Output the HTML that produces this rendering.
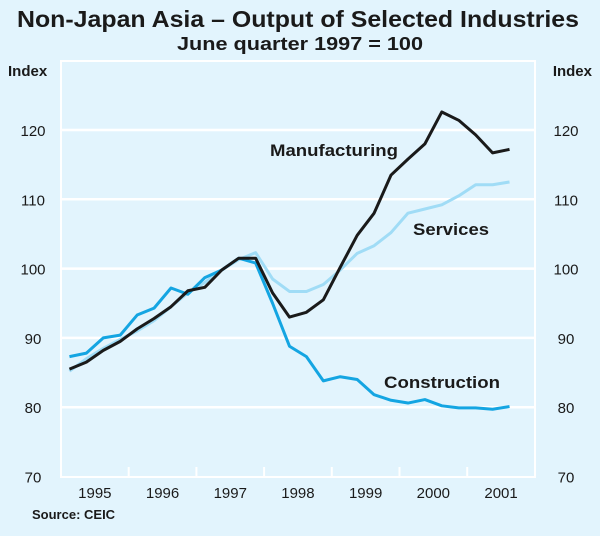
<!DOCTYPE html>
<html><head><meta charset="utf-8"><style>
body{margin:0;background:#e2f4fd;font-family:"Liberation Sans",Arial,sans-serif}
svg text{font-family:"Liberation Sans",Arial,sans-serif}
</style></head><body>
<svg id="c" width="600" height="531" xmlns="http://www.w3.org/2000/svg">
<rect x="0" y="0" width="600" height="531" fill="#e2f4fd"/>
<text x="298" y="27" text-anchor="middle" font-size="23" font-weight="bold" fill="#1a1a1a" textLength="562" lengthAdjust="spacingAndGlyphs">Non-Japan Asia – Output of Selected Industries</text>
<text x="300" y="50" text-anchor="middle" font-size="18" font-weight="bold" fill="#1a1a1a" textLength="246" lengthAdjust="spacingAndGlyphs">June quarter 1997 = 100</text>
<g id="grid"></g>
<rect x="61" y="61" width="474" height="416" fill="none" stroke="#fff" stroke-width="2"/>
<text x="8" y="76" font-size="15" font-weight="bold" fill="#1a1a1a">Index</text>
<text x="592" y="76" text-anchor="end" font-size="15" font-weight="bold" fill="#1a1a1a">Index</text>
<g id="ticks"></g>
<g id="lines"></g>
<text x="270" y="156" font-size="17" font-weight="bold" fill="#1a1a1a" textLength="128" lengthAdjust="spacingAndGlyphs">Manufacturing</text>
<text x="413" y="235" font-size="17" font-weight="bold" fill="#1a1a1a" textLength="76" lengthAdjust="spacingAndGlyphs">Services</text>
<text x="384" y="388" font-size="17" font-weight="bold" fill="#1a1a1a" textLength="116" lengthAdjust="spacingAndGlyphs">Construction</text>
<text x="32" y="519" font-size="13" font-weight="bold" fill="#1a1a1a">Source: CEIC</text>
</svg>
<script>
const yTicks=[70,80,90,100,110,120];
const years=['1995','1996','1997','1998','1999','2000','2001'];
const manufacturing=[85.5,86.5,88.2,89.5,91.3,92.8,94.5,96.8,97.3,99.8,101.5,101.5,96.5,93.0,93.7,95.5,100.2,104.8,108.0,113.5,115.8,118.0,122.6,121.4,119.3,116.7,117.2];
const services=[85.2,87,88.5,89.8,91,92.5,94.5,96.5,98,99.8,101.3,102.3,98.5,96.7,96.7,97.7,99.8,102.2,103.3,105.2,108,108.6,109.2,110.5,112.1,112.1,112.5];
const construction=[87.3,87.8,90,90.4,93.3,94.3,97.2,96.3,98.7,99.8,101.5,100.8,95,88.8,87.3,83.8,84.4,84,81.8,81,80.6,81.1,80.2,79.9,79.9,79.7,80.1];
const NS='http://www.w3.org/2000/svg';
const X0=61,YW=67.7,Ybot=476.5,PX=6.93;
const yS=v=>Ybot-(v-70)*PX;
const xQ=i=>X0+YW/8+i*YW/4;
function mk(t,a,p){const e=document.createElementNS(NS,t);for(const k in a)e.setAttribute(k,a[k]);p.appendChild(e);return e;}
const grid=document.getElementById('grid'),ticks=document.getElementById('ticks'),lines=document.getElementById('lines');
yTicks.forEach(v=>{
  if(v>70){const l=mk('line',{x1:X0,x2:X0+474,y1:yS(v),y2:yS(v),stroke:'#fff','stroke-width':2.5},grid);
  
  }
  const a=mk('text',{x:33,y:yS(v)+6,'text-anchor':'middle','font-size':15,fill:'#1a1a1a'},ticks);a.textContent=v;
  
  
  const b=mk('text',{x:566,y:yS(v)+6,'text-anchor':'middle','font-size':15,fill:'#1a1a1a'},ticks);b.textContent=v;
  
  
});
years.forEach((y,i)=>{
  if(i>0){const t=mk('line',{x1:X0+i*YW,x2:X0+i*YW,y1:467,y2:477,stroke:'#fff','stroke-width':2},ticks);
  
  }
  const a=mk('text',{x:X0+(i+0.5)*YW,y:498,'text-anchor':'middle','font-size':15,fill:'#1a1a1a'},ticks);a.textContent=y;
  
  
});
function line(d,c,n){const p=mk('polyline',{points:d.map((v,i)=>xQ(i)+','+yS(v)).join(' '),fill:'none',stroke:c,'stroke-width':3,'stroke-linejoin':'round'},lines);

}
line(services,'#a0dcf6','services-line');
line(construction,'#14a5e2','construction-line');
line(manufacturing,'#1a1a1a','manufacturing-line');
</script>
</body></html>
